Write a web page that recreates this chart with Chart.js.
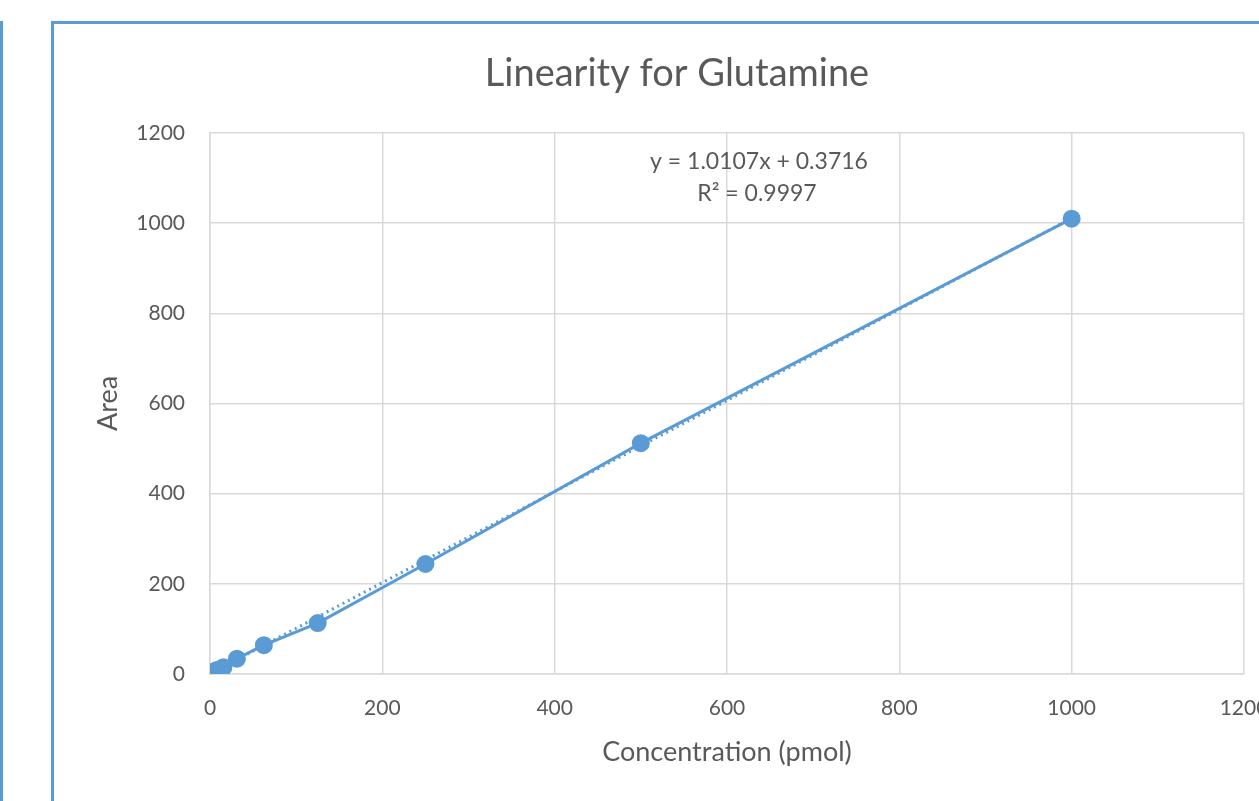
<!DOCTYPE html>
<html>
<head>
<meta charset="utf-8">
<title>Linearity for Glutamine</title>
<script src="https://cdn.jsdelivr.net/npm/chart.js@4"></script>
<style>
  html, body { margin: 0; padding: 0; background: #fff; overflow: hidden; width: 1259px; height: 801px; }
  .frame { position: absolute; border: 3px solid #5b9bd5; }
  #wrap { position: absolute; left: 0; top: 0; width: 1320px; height: 801px; }
</style>
</head>
<body>
<div class="frame" style="left:-60px; top:21px; width:60px; height:900px; border-left:none;"></div>
<div class="frame" style="left:51px; top:21px; width:1400px; height:900px;"></div>
<div id="wrap"><canvas id="chart"></canvas></div>
<script>
// concentration (pmol) vs peak area
const concentration = [0.98, 1.95, 3.9, 7.8, 15.6, 31.25, 62.5, 125, 250, 500, 1000];
const area = [1, 2, 4, 9, 15, 34, 64, 113, 244, 512, 1010];

// linear trendline as shown in the chart
const trendX = [0, 1000];
const trendY = [0.3716, 1011.07];
const trendLabel = ['y = 1.0107x + 0.3716', 'R\u00b2 = 0.9997'];
const chartTitle = 'Linearity for Glutamine';

const blue = '#5b9bd5';
const grey = '#595959';
const font = 'Lato, "Open Sans", sans-serif';

// title + trendline equation, drawn at the same spots as in the excel chart
const textPlugin = {
    id: 'textLabels',
    afterDatasetsDraw(chart) {
        const ctx = chart.ctx;
        ctx.save();
        ctx.fillStyle = grey;
        ctx.textAlign = 'center';
        ctx.textBaseline = 'middle';
        ctx.font = '38px ' + font;
        ctx.fillText(chartTitle, 677, 74);
        ctx.font = '23px ' + font;
        ctx.fillText(trendLabel[0], 759, 162);
        ctx.fillText(trendLabel[1], 757, 194);
        ctx.restore();
    }
};

const ctx = document.getElementById('chart').getContext('2d');
new Chart(ctx, {
    type: 'scatter',
    data: {
        datasets: [{
            label: 'Area',
            data: concentration.map((x, i) => ({ x: x, y: area[i] })),
            showLine: true,
            borderColor: blue,
            backgroundColor: blue,
            borderWidth: 3,
            pointRadius: 7.5,
            pointHoverRadius: 7.5
        }, {
            label: 'Linear (Area)',
            data: trendX.map((x, i) => ({ x: x, y: trendY[i] })),
            showLine: true,
            borderColor: blue,
            borderWidth: 3,
            borderDash: [2, 4],
            pointRadius: 0
        }]
    },
    options: {
        responsive: true,
        maintainAspectRatio: false,
        animation: false,
        layout: { padding: { left: 0, top: 133, right: 76, bottom: 0 } },
        plugins: {
            legend: { display: false },
            tooltip: { enabled: false },
            title: { display: false }
        },
        scales: {
            x: {
                type: 'linear',
                min: 0,
                max: 1200,
                ticks: { stepSize: 200, color: grey, font: { family: font, size: 21 }, padding: 22,
                         callback: v => String(v) },
                grid: { color: '#d9d9d9', lineWidth: 1.5, drawTicks: false },
                border: { color: '#d9d9d9', width: 1.5 },
                title: {
                    display: true,
                    text: 'Concentration (pmol)',
                    color: grey,
                    font: { family: font, size: 27 },
                    padding: { top: 0, bottom: 33 }
                },
                afterFit: s => { s.height = 127; }
            },
            y: {
                min: 0,
                max: 1200,
                ticks: { stepSize: 200, color: grey, font: { family: font, size: 21 }, padding: 25,
                         callback: v => String(v) },
                grid: { color: '#d9d9d9', lineWidth: 1.5, drawTicks: false },
                border: { color: '#d9d9d9', width: 1.5 },
                title: {
                    display: true,
                    text: 'Area',
                    color: grey,
                    font: { family: font, size: 27 },
                    padding: { top: 92, bottom: 0 }
                },
                afterFit: s => { s.width = 210; }
            }
        }
    },
    plugins: [textPlugin]
});
</script>
</body>
</html>
